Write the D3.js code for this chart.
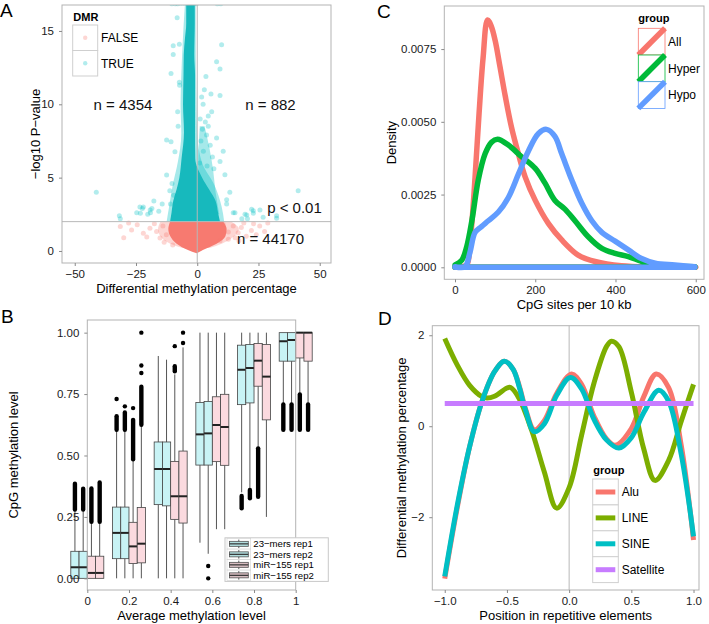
<!DOCTYPE html>
<html>
<head>
<meta charset="utf-8">
<script src="https://cdn.jsdelivr.net/npm/d3@7"></script>
<style>
body { margin: 0; background: #fff; }
svg { display: block; }
text { font-family: "Liberation Sans", Arial, sans-serif; }
</style>
</head>
<body>
<script>
// ---- panel A: volcano plot (dense clouds as envelopes + loose points) ----
const dmrGroups = ["FALSE", "TRUE"]
const falseEnvY = [-0.16, 0.07, 0.5, 1.0, 1.5, 2.0]
const falseEnvL = [-0.2, -3.8, -8.4, -11.0, -11.8, -11.1]
const falseEnvR = [-0.2, 2.3, 7.9, 11.5, 12.0, 10.6]
const falseHaloY = [0.2, 0.5, 1.0, 1.5, 2.0]
const falseHaloL = [-6, -11, -15, -16, -15]
const falseHaloR = [5, 10, 15, 17, 14]
const trueEnvY = [2.0, 2.6, 3.4, 4.2, 5.0, 6.3, 8.1, 10.0, 12.0, 13.4, 14.5, 15.5, 16.9]
const trueEnvL = [-11.1, -10.5, -9.8, -8.4, -7.3, -6.4, -5.4, -5.8, -5.6, -5.5, -5.0, -4.5, -4.5]
const trueEnvR = [9.3, 8.5, 7.5, 4.8, 2.0, -0.8, -0.9, -0.9, -0.9, -1.2, -1.1, -1.0, -1.0]
const trueHaloY = [2.0, 3.0, 4.5, 6.0, 8.0, 10.0, 12.0, 14.0, 16.9]
const trueHaloL = [-12.5, -11.5, -10.0, -8.0, -6.5, -6.8, -6.5, -6.0, -5.0]
const trueHaloR = [11.0, 10.0, 7.0, 2.0, 0.0, -0.3, -0.5, -0.6, -0.6]
const trueLobeY = [2.5, 4.0, 5.5, 7.0, 8.5]
const trueLobeL = [0.3, 0.3, 0.4, 0.6, 1.0]
const trueLobeR = [9.0, 7.5, 6.5, 5.0, 3.0]
const truePtsX = [-41.2, -31.8, -31.4, -23.4, -23.2, -22.0, -22.4, -24.7, -19.2, -18.5, -19.1, -20.2, -17.7, -14.3, -15.7,
  -12.5, -10.7, -9.1, -12.5, -10.3, -11.2, -9.6, -10.9, -9.8, -9.8, -10.7, -8.2, -7.3, -7.3, -7.2, -8.0, -7.8,
  41.2, 32.4, 32.4, 22.9, 22.9, 20.2, 18.2, 14.7, 12.0, 9.95, 7.9, 9.3, 3.55, 2.9, 5.6, 9.3, 1.8, 2.4, 5.9, 4.5,
  1.2, 3.3, 4.5, 7.9, 5.3, 9.3, 10.6, 11.3, 13.3, 12.0, 15.4, 19.5, 22.2, 26.9, 25.6, 20.5, 1.5, 2.5, 3.8, 6.2,
  2.1, 6.8, 1.0, 4.0, 8.2, 9.6,
  -10.4, -9, -8, -7, -6, -5, -4, -3, -2, -1, -0.3]
const truePtsY = [4.0, 2.4, 2.2, 3.0, 2.57, 3.0, 2.9, 2.6, 2.8, 2.9, 2.6, 2.5, 3.4, 3.2, 2.7,
  7.57, 7.45, 6.77, 5.18, 4.6, 4.1, 3.8, 3.2, 14.0, 13.4, 12.1, 15.9, 14.1, 11.5, 11.3, 9.5, 8.5,
  4.1, 2.4, 2.23, 2.75, 2.57, 2.45, 2.2, 2.6, 3.5, 14.06, 12.9, 12.4, 11.9, 11.0, 10.7, 10.6, 10.5, 10.0, 9.5, 9.2,
  9.0, 8.8, 8.5, 7.7, 7.2, 6.1, 6.8, 5.2, 4.0, 3.2, 2.6, 2.5, 2.85, 2.3, 2.8, 2.2, 7.5, 6.8, 7.9, 6.4,
  8.3, 5.6, 6.0, 5.8, 16.85, 16.85,
  16.85, 16.85, 16.85, 16.9, 16.9, 16.9, 16.9, 16.9, 16.9, 16.9, 16.85]
const falsePtsX = [-31.4, -26.8, -24.5, -22.0, -19.3, -20.6, -16.6, -15.2, -14.0, -12.6, -28.0, -17.5, -13.5, -10.0, -30.0,
  10.6, 12.7, 14.7, 16.7, 18.0, 20.0, 22.1, 24.1, 25.5, 27.5, 28.8, 12.7, 9.3, 15.5, 19.0, 23.0, 17.0]
const falsePtsY = [1.66, 1.43, 1.79, 1.2, 1.55, 0.95, 1.32, 0.89, 1.7, 1.1, 1.9, 1.85, 0.6, 0.4, 0.9,
  1.8, 1.3, 1.7, 1.25, 1.6, 1.0, 1.4, 1.1, 1.7, 1.32, 1.9, 0.8, 0.7, 0.9, 1.9, 1.85, 0.7]
const aNotes = [["n = 4354", -30.3, 10], ["n = 882", 29.9, 10], ["p < 0.01", 39.7, 2.93], ["n = 44170", 29.9, 0.82]]

// ---- panel B: boxplots [lower whisker, Q1, median, Q3, upper whisker] ----
const bCats = ["0", "0.2", "0.4", "0.6", "0.8", "1"]
const bGroups = ["23\u2212mers rep1", "23\u2212mers rep2", "miR\u2212155 rep1", "miR\u2212155 rep2"]
const bStats = [
  [[0, 0, 0.045, 0.11, 0.275], [0, 0, 0.045, 0.11, 0.275], [0, 0, 0.022, 0.09, 0.225], [0, 0, 0.022, 0.09, 0.225]],
  [[0, 0.08, 0.185, 0.29, 0.6], [0, 0.08, 0.185, 0.29, 0.6], [0, 0.06, 0.13, 0.228, 0.48], [0, 0.063, 0.141, 0.288, 0.62]],
  [[0, 0.30, 0.445, 0.555, 0.905], [0, 0.295, 0.445, 0.555, 0.89], [0, 0.24, 0.334, 0.476, 0.83], [0, 0.225, 0.334, 0.518, 0.94]],
  [[0.145, 0.461, 0.586, 0.716, 1.0], [0.1, 0.461, 0.59, 0.72, 1.0], [0.2, 0.475, 0.624, 0.739, 1.0], [0.2, 0.46, 0.616, 0.749, 1.0]],
  [[0.35, 0.707, 0.849, 0.949, 1.0], [0.36, 0.714, 0.856, 0.952, 1.0], [0.52, 0.782, 0.886, 0.956, 1.0], [0.25, 0.645, 0.821, 0.952, 1.0]],
  [[0.71, 0.884, 0.965, 1.0, 1.0], [0.71, 0.884, 0.97, 1.0, 1.0], [0.75, 0.897, 1.0, 1.0, 1.0], [0.71, 0.884, 1.0, 1.0, 1.0]]
]
// dense outlier runs [lo, hi] and single outliers
const bOutRuns = [
  [[0.28, 0.385], [0.28, 0.365], [0.23, 0.366], [0.23, 0.39]],
  [[0.605, 0.66], [0.605, 0.675], [0.485, 0.645], [0.625, 0.78]],
  [null, null, [0.843, 0.863], null],
  [null, null, null, null],
  [[0.285, 0.335], [0.326, 0.36], [0.332, 0.529], null],
  [[0.605, 0.708], [0.605, 0.708], [0.605, 0.748], [0.605, 0.708]]
]
const bOutPts = [
  [[], [], [], []],
  [[0.73], [0.70], [0.693], [1.0, 0.866, 0.836]],
  [[], [], [0.945], [1.0, 0.958]],
  [[], [0.05, 0.0], [], []],
  [[], [], [], []],
  [[], [], [], []]
]
const bFill = ["#c8f3f5", "#c8f3f5", "#fbdadf", "#fbdadf"]
const bKeyFill = ["#b0dcdd", "#b0dcdd", "#d6bcc0", "#d6bcc0"]

// ---- panel C: densities ----
const cGroups = ["All", "Hyper", "Hypo"]
const cColors = ["#F8766D", "#00BA38", "#619CFF"]
const allX = [0, 20, 30, 40, 50, 60, 70, 81, 90, 100, 112, 125, 141, 158, 175, 200, 233, 266, 307, 349, 415, 500, 600]
const allD = [0.00002, 0.00003, 0.0001, 0.0012, 0.0031, 0.0053, 0.0072, 0.0085, 0.0083, 0.0078, 0.0069, 0.0059, 0.0048, 0.0039, 0.0031, 0.0023, 0.0015, 0.00094, 0.00042, 0.0002, 0.00005, 0.00001, 0]
const hyperX = [0, 17, 29, 42, 58, 75, 91, 106, 133, 166, 200, 224, 249, 274, 299, 332, 366, 399, 432, 465, 499, 598]
const hyperD = [0.00008, 0.00025, 0.0007, 0.0016, 0.003, 0.0039, 0.0043, 0.0044, 0.0042, 0.0038, 0.0034, 0.0029, 0.0023, 0.002, 0.0016, 0.00105, 0.00065, 0.00048, 0.00037, 0.0002, 0.00008, 0.00002]
const hypoX = [0, 25, 37, 50, 66, 83, 108, 133, 158, 183, 208, 228, 249, 266, 291, 316, 341, 366, 399, 432, 465, 499, 548, 598]
const hypoD = [0.00002, 0.00002, 0.0005, 0.0012, 0.0014, 0.0016, 0.0019, 0.0024, 0.0032, 0.004, 0.0046, 0.00474, 0.0045, 0.0039, 0.003, 0.0022, 0.0016, 0.0012, 0.0009, 0.0006, 0.0003, 0.00014, 0.00008, 0.00002]

// ---- panel D: smoothed profiles ----
const dGroups = ["Alu", "LINE", "SINE", "Satellite"]
const dColors = ["#F8766D", "#7CAE00", "#00BFC4", "#C77CFF"]
const aluX = [-1, -0.9, -0.8, -0.7, -0.6, -0.52, -0.45, -0.4, -0.35, -0.28, -0.2, -0.1, 0.02, 0.1, 0.2, 0.3, 0.37, 0.5, 0.6, 0.7, 0.8, 0.9, 1.0]
const aluY = [-3.35, -1.8, -0.45, 0.55, 1.2, 1.43, 1.25, 0.88, 0.38, -0.08, 0.12, 0.72, 1.15, 0.92, 0.22, -0.28, -0.42, -0.05, 0.65, 1.15, 0.85, -0.4, -2.5]
const lineX = [-1, -0.9, -0.8, -0.7, -0.66, -0.6, -0.5, -0.47, -0.4, -0.3, -0.2, -0.1, 0.0, 0.1, 0.2, 0.3, 0.34, 0.4, 0.5, 0.6, 0.69, 0.8, 0.9, 1.0]
const lineY = [1.93, 1.35, 0.9, 0.65, 0.62, 0.66, 0.84, 0.85, 0.6, -0.1, -1.0, -1.8, -1.35, -0.2, 0.95, 1.75, 1.87, 1.75, 0.75, -0.5, -1.19, -0.75, 0.1, 0.92]
const sineX = [-1, -0.9, -0.8, -0.7, -0.6, -0.52, -0.45, -0.4, -0.35, -0.28, -0.2, -0.1, 0.01, 0.1, 0.2, 0.3, 0.4, 0.5, 0.6, 0.72, 0.8, 0.9, 1.0]
const sineY = [-3.3, -1.75, -0.45, 0.55, 1.2, 1.43, 1.25, 0.85, 0.35, -0.12, 0.05, 0.68, 1.07, 0.82, 0.15, -0.3, -0.48, -0.25, 0.3, 0.79, 0.55, -0.6, -2.42]
const satX = [-1, 1]
const satY = [0.5, 0.5]

const svg = d3.select('body').append('svg').attr('width', 709).attr('height', 624)
const zip = (a, b) => a.map((v, i) => [v, b[i]])

// border + axes for one panel
function frame(x, y, xTicks, yTicks, xFmt, yFmt, xTitle, yTitle, yTitleX) {
  const [x0, x1] = x.range()
  const [y1, y0] = y.range()
  svg.append('rect').attr('x', x0).attr('y', y0).attr('width', x1 - x0).attr('height', y1 - y0)
    .attr('fill', 'none').attr('stroke', '#b3b3b3')
  const gx = svg.append('g').attr('transform', 'translate(0,' + y1 + ')')
    .call(d3.axisBottom(x).tickValues(xTicks).tickFormat(xFmt).tickSize(3).tickPadding(4))
  const gy = svg.append('g').attr('transform', 'translate(' + x0 + ',0)')
    .call(d3.axisLeft(y).tickValues(yTicks).tickFormat(yFmt).tickSize(3).tickPadding(5))
  for (const g of [gx, gy]) {
    g.select('.domain').remove()
    g.selectAll('line').attr('stroke', '#8a8a8a')
    g.selectAll('text').attr('fill', '#1a1a1a').style('font-size', '11.5px')
      .style('font-family', '"Liberation Sans", Arial, sans-serif')
  }
  svg.append('text').attr('x', (x0 + x1) / 2).attr('y', y1 + 30).attr('text-anchor', 'middle')
    .style('font-size', '13px').text(xTitle)
  svg.append('text').attr('transform', 'translate(' + yTitleX + ',' + (y0 + y1) / 2 + ') rotate(-90)')
    .attr('text-anchor', 'middle').style('font-size', '13px').text(yTitle)
}
const minus = d => (d < 0 ? '\u2212' + Math.abs(d) : '' + d)

// ================= A =================
const ax = d3.scaleLinear().domain([-55.2, 54.6]).range([62, 331])
const ay = d3.scaleLinear().domain([-0.82, 16.77]).range([263, 5])
svg.append('clipPath').attr('id', 'clipA').append('rect').attr('x', 62).attr('y', 5).attr('width', 269).attr('height', 258)
const pA = svg.append('g').attr('clip-path', 'url(#clipA)')
const env = d3.area().curve(d3.curveMonotoneY).y(d => ay(d[0])).x0(d => ax(d[1])).x1(d => ax(d[2]))
const env3 = (ys, ls, rs) => ys.map((v, i) => [v, ls[i], rs[i]])
pA.append('path').attr('d', env(env3(falseHaloY, falseHaloL, falseHaloR))).attr('fill', '#F8766D').attr('opacity', 0.3)
pA.append('path').attr('d', env(env3(falseEnvY, falseEnvL, falseEnvR))).attr('fill', '#F77A70')
pA.selectAll('.fp').data(zip(falsePtsX, falsePtsY)).enter().append('circle')
  .attr('cx', d => ax(d[0])).attr('cy', d => ay(d[1])).attr('r', 2.5).attr('fill', '#F8766D').attr('opacity', 0.3)
pA.append('path').attr('d', env(env3(trueHaloY, trueHaloL, trueHaloR))).attr('fill', '#00BFC4').attr('opacity', 0.35)
pA.append('path').attr('d', env(env3(trueLobeY, trueLobeL, trueLobeR))).attr('fill', '#00BFC4').attr('opacity', 0.35)
pA.append('path').attr('d', env(env3(trueEnvY, trueEnvL, trueEnvR))).attr('fill', '#17B9BD')
pA.selectAll('.tp').data(zip(truePtsX, truePtsY)).enter().append('circle')
  .attr('cx', d => ax(d[0])).attr('cy', d => ay(d[1])).attr('r', 2.5).attr('fill', '#00BFC4').attr('opacity', 0.3)
svg.append('line').attr('x1', ax(0)).attr('x2', ax(0)).attr('y1', 5).attr('y2', 263).attr('stroke', '#b8b8b8')
svg.append('line').attr('x1', 62).attr('x2', 331).attr('y1', ay(2)).attr('y2', ay(2)).attr('stroke', '#b8b8b8')
svg.selectAll('.anote').data(aNotes).enter().append('text')
  .attr('x', d => ax(d[1])).attr('y', d => ay(d[2])).attr('dy', '0.36em').attr('text-anchor', 'middle')
  .style('font-size', '15px').attr('fill', '#111').text(d => d[0])
frame(ax, ay, [-50, -25, 0, 25, 50], [0, 5, 10, 15], minus, minus,
  'Differential methylation percentage', '\u2212log10 P\u2212value', 39.5)
// legend A
svg.append('text').attr('x', 73.3).attr('y', 21).style('font-size', '11px').style('font-weight', 'bold').text('DMR')
dmrGroups.forEach((g, i) => {
  const ky = 25 + i * 25.5
  svg.append('rect').attr('x', 72.7).attr('y', ky).attr('width', 25).attr('height', 25.5)
    .attr('fill', '#fff').attr('stroke', '#cfcfcf')
  svg.append('circle').attr('cx', 85.2).attr('cy', ky + 12.75).attr('r', 2.2)
    .attr('fill', i ? '#00BFC4' : '#F8766D').attr('opacity', 0.3)
  svg.append('text').attr('x', 101).attr('y', ky + 12.75).attr('dy', '0.36em').style('font-size', '12px').text(g)
})

// ================= B =================
const bx = d3.scalePoint().domain(bCats).range([87.3, 295.7])
const by = d3.scaleLinear().domain([-0.0475, 1.0515]).range([590, 320])
const bw = 8.25
bStats.forEach((cat, ci) => {
  cat.forEach((s, k) => {
    const cx = bx(bCats[ci]) + (k - 1.5) * bw
    svg.append('line').attr('x1', cx).attr('x2', cx).attr('y1', by(s[0])).attr('y2', by(s[1])).attr('stroke', '#555')
    svg.append('line').attr('x1', cx).attr('x2', cx).attr('y1', by(s[3])).attr('y2', by(s[4])).attr('stroke', '#555')
    svg.append('rect').attr('x', cx - bw / 2).attr('y', by(s[3])).attr('width', bw)
      .attr('height', Math.max(by(s[1]) - by(s[3]), 0.5))
      .attr('fill', bFill[k]).attr('stroke', '#444').attr('stroke-width', 0.8)
    svg.append('line').attr('x1', cx - bw / 2).attr('x2', cx + bw / 2).attr('y1', by(s[2])).attr('y2', by(s[2]))
      .attr('stroke', '#222').attr('stroke-width', 2)
    const run = bOutRuns[ci][k]
    if (run) {
      svg.append('line').attr('x1', cx).attr('x2', cx).attr('y1', by(run[0])).attr('y2', by(run[1]))
        .attr('stroke', '#000').attr('stroke-width', 4.4).attr('stroke-linecap', 'round')
    }
    bOutPts[ci][k].forEach(v => {
      svg.append('circle').attr('cx', cx).attr('cy', by(v)).attr('r', 2.2).attr('fill', '#000')
    })
  })
})
frame(bx, by, bCats, [0, 0.25, 0.5, 0.75, 1], d => d, d3.format('.2f'),
  'Average methylation level', 'CpG methylation level', 17.5)
// legend B
svg.append('rect').attr('x', 225).attr('y', 537.8).attr('width', 103.3).attr('height', 43.6)
  .attr('fill', '#fff').attr('stroke', '#c8c8c8')
bGroups.forEach((g, i) => {
  const ky = 538.6 + i * 10.5
  svg.append('rect').attr('x', 227).attr('y', ky).attr('width', 23.7).attr('height', 10.5)
    .attr('fill', '#fff').attr('stroke', '#d0d0d0').attr('stroke-width', 0.6)
  svg.append('line').attr('x1', 238.8).attr('x2', 238.8).attr('y1', ky + 1).attr('y2', ky + 9.5).attr('stroke', '#555')
  svg.append('rect').attr('x', 229.4).attr('y', ky + 2.75).attr('width', 18.9).attr('height', 5)
    .attr('fill', bKeyFill[i]).attr('stroke', '#555').attr('stroke-width', 0.8)
  svg.append('line').attr('x1', 229.4).attr('x2', 248.3).attr('y1', ky + 5.25).attr('y2', ky + 5.25)
    .attr('stroke', '#333').attr('stroke-width', 1.2)
  svg.append('text').attr('x', 253.3).attr('y', ky + 5.25).attr('dy', '0.35em').style('font-size', '9.6px').text(g)
})

// ================= C =================
const cx = d3.scaleLinear().domain([-26.7, 620.6]).range([444.3, 704])
const cy = d3.scaleLinear().domain([-0.000412, 0.00898]).range([279.3, 6])
const dens = [zip(allX, allD), zip(hyperX, hyperD), zip(hypoX, hypoD)]
const cLine = d3.line().curve(d3.curveCatmullRom.alpha(0.5)).x(d => cx(d[0])).y(d => cy(d[1]))
dens.forEach((pts, i) => {
  const last = pts[pts.length - 1]
  svg.append('path').attr('d', cLine(pts) + 'L' + cx(last[0]) + ',' + cy(0) + 'L' + cx(pts[0][0]) + ',' + cy(0) + 'Z')
    .attr('fill', 'none').attr('stroke', cColors[i]).attr('stroke-width', 5.5).attr('stroke-linejoin', 'round')
})
frame(cx, cy, [0, 200, 400, 600], [0, 0.0025, 0.005, 0.0075], d => d, d3.format('.4f'),
  'CpG sites per 10 kb', 'Density', 395.5)
svg.append('text').attr('x', 638.3).attr('y', 22).style('font-size', '11px').style('font-weight', 'bold').text('group')
cGroups.forEach((g, i) => {
  const ky = 28.3 + i * 26.7
  svg.append('rect').attr('x', 638.3).attr('y', ky).attr('width', 26.7).attr('height', 26.7)
    .attr('fill', '#fff').attr('stroke', cColors[i]).attr('stroke-width', 0.8)
  svg.append('line').attr('x1', 638.3).attr('y1', ky + 26.7).attr('x2', 665).attr('y2', ky)
    .attr('stroke', cColors[i]).attr('stroke-width', 5.5)
  svg.append('text').attr('x', 668).attr('y', ky + 13.4).attr('dy', '0.36em').style('font-size', '12px').text(g)
})

// ================= D =================
const dx = d3.scaleLinear().domain([-1.1, 1.044]).range([432.3, 699])
const dy = d3.scaleLinear().domain([-3.6, 2.21]).range([590, 325.7])
svg.append('line').attr('x1', dx(0)).attr('x2', dx(0)).attr('y1', 325.7).attr('y2', 590).attr('stroke', '#b8b8b8')
const dLine = d3.line().curve(d3.curveCatmullRom.alpha(0.5)).x(d => dx(d[0])).y(d => dy(d[1]))
const prof = [zip(aluX, aluY), zip(lineX, lineY), zip(sineX, sineY), zip(satX, satY)]
prof.forEach((pts, i) => {
  svg.append('path').attr('d', dLine(pts)).attr('fill', 'none').attr('stroke', dColors[i]).attr('stroke-width', 5)
})
frame(dx, dy, [-1, -0.5, 0, 0.5, 1], [-2, 0, 2], d => (d < 0 ? '\u2212' : '') + Math.abs(d).toFixed(1), minus,
  'Position in repetitive elements', 'Differential methylation percentage', 406)
svg.append('text').attr('x', 593.3).attr('y', 474).style('font-size', '11px').style('font-weight', 'bold').text('group')
dGroups.forEach((g, i) => {
  const ky = 479 + i * 25.9
  svg.append('rect').attr('x', 592.7).attr('y', ky).attr('width', 25.6).attr('height', 25.9)
    .attr('fill', '#fff').attr('stroke', '#d0d0d0')
  svg.append('line').attr('x1', 595.7).attr('x2', 615.3).attr('y1', ky + 13).attr('y2', ky + 13)
    .attr('stroke', dColors[i]).attr('stroke-width', 5)
  svg.append('text').attr('x', 621.7).attr('y', ky + 13).attr('dy', '0.36em').style('font-size', '12px').text(g)
})

// panel letters
const letters = [['A', 0, 17], ['B', 1, 323], ['C', 377, 18], ['D', 378, 325]]
svg.selectAll('.lab').data(letters).enter().append('text')
  .attr('x', d => d[1]).attr('y', d => d[2]).style('font-size', '19px').text(d => d[0])
</script>
</body>
</html>
